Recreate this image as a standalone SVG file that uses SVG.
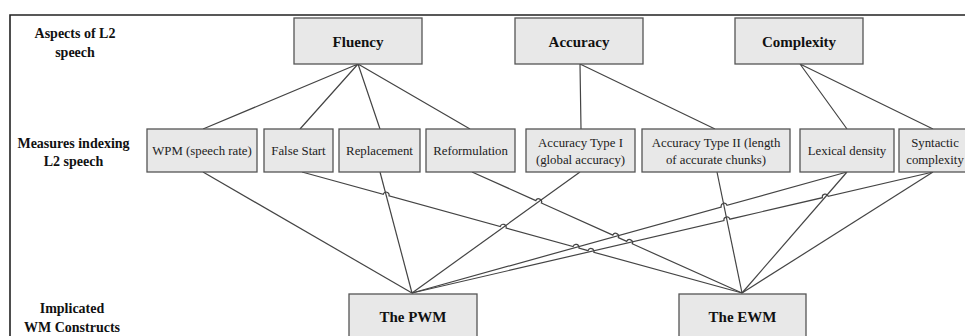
<svg xmlns="http://www.w3.org/2000/svg" width="965" height="336" viewBox="0 0 965 336">
<style>
.box{fill:#e8e8e8;stroke:#555;stroke-width:1.3}
.lbl{font-family:"Liberation Serif","Times New Roman",serif;font-weight:bold;font-size:14px;fill:#111;text-anchor:middle}
.hd{font-family:"Liberation Serif","Times New Roman",serif;font-weight:bold;font-size:15px;fill:#111;text-anchor:middle}
.ms{font-family:"Liberation Serif","Times New Roman",serif;font-size:12.8px;fill:#222;text-anchor:middle}
.ln{fill:none;stroke:#444;stroke-width:1.2}
</style>
<rect width="965" height="336" fill="#fff"/>
<path d="M10,336 L10,15 L965,15" fill="none" stroke="#222" stroke-width="1.6"/>
<g id="row-labels">
<text class="lbl" x="75" y="38">Aspects of L2</text>
<text class="lbl" x="75" y="57">speech</text>
<text class="lbl" x="73.5" y="148">Measures indexing</text>
<text class="lbl" x="73.5" y="166">L2 speech</text>
<text class="lbl" x="72" y="313">Implicated</text>
<text class="lbl" x="72" y="332">WM Constructs</text>
</g>
<g id="connectors" class="ln">
<path class="ln" d="M358,64 L203,129 M358,64 L300,129 M358,64 L380,129 M358,64 L470,129"/>
<path class="ln" d="M580,64 L581,129 M580,64 L715,129"/>
<path class="ln" d="M800,64 L847,129 M800,64 L933,129"/>
<path class="ln" d="M203,172 L412,293"/>
<path class="ln" d="M380,172 L412,293"/>
<path class="ln" d="M580,172 L412,293"/>
<path class="ln" d="M412,293 L721.21,206.99 A3,3 0 0 1 726.99,205.39 L847,172"/>
<path class="ln" d="M412,293 L723.98,220.55 A3,3 0 0 1 729.82,219.19 L822.38,197.69 A3,3 0 0 1 828.22,196.33 L933,172"/>
<path class="ln" d="M302,172 L383.2,194.33 A3,3 0 0 1 389.0,195.93 L500.3,226.53 A3,3 0 0 1 506.1,228.13 L573.1,246.55 A3,3 0 0 1 578.9,248.15 L588.1,250.68 A3,3 0 0 1 593.9,252.28 L742,293"/>
<path class="ln" d="M472,172 L535.86,200.61 A3,3 0 0 1 541.34,203.07 L612.86,235.12 A3,3 0 0 1 618.34,237.58 L626.76,241.35 A3,3 0 0 1 632.24,243.81 L742,293"/>
<path class="ln" d="M717,172 L742,293"/>
<path class="ln" d="M847,172 L742,293"/>
<path class="ln" d="M933,172 L742,293"/>
</g>
<g id="fluency"><rect class="box" x="294" y="18" width="128" height="46"/><text class="hd" x="358" y="47">Fluency</text></g>
<g id="accuracy"><rect class="box" x="515" y="18" width="128" height="46"/><text class="hd" x="579" y="47">Accuracy</text></g>
<g id="complexity"><rect class="box" x="735" y="18" width="128" height="46"/><text class="hd" x="799" y="47">Complexity</text></g>
<g id="wpm"><rect class="box" x="147" y="129" width="110" height="43"/><text class="ms" x="202" y="155">WPM (speech rate)</text></g>
<g id="false-start"><rect class="box" x="264" y="129" width="69" height="43"/><text class="ms" x="298.5" y="155">False Start</text></g>
<g id="replacement"><rect class="box" x="339" y="129" width="81" height="43"/><text class="ms" x="379.5" y="155">Replacement</text></g>
<g id="reformulation"><rect class="box" x="426" y="129" width="89" height="43"/><text class="ms" x="470.5" y="155">Reformulation</text></g>
<g id="acc1"><rect class="box" x="526" y="129" width="109" height="43"/><text class="ms" x="580.5" y="147">Accuracy Type I</text><text class="ms" x="580.5" y="164">(global accuracy)</text></g>
<g id="acc2"><rect class="box" x="642" y="129" width="148" height="43"/><text class="ms" x="716" y="147">Accuracy Type II (length</text><text class="ms" x="716" y="164">of accurate chunks)</text></g>
<g id="lexical"><rect class="box" x="800" y="129" width="94" height="43"/><text class="ms" x="847" y="155">Lexical density</text></g>
<g id="syntactic"><rect class="box" x="899" y="129" width="72" height="43"/><text class="ms" x="935" y="147">Syntactic</text><text class="ms" x="935" y="164">complexity</text></g>
<g id="pwm"><rect class="box" x="349" y="294" width="128" height="50"/><text class="hd" x="413" y="322">The PWM</text></g>
<g id="ewm"><rect class="box" x="679" y="294" width="127" height="50"/><text class="hd" x="742.5" y="322">The EWM</text></g>
</svg>
